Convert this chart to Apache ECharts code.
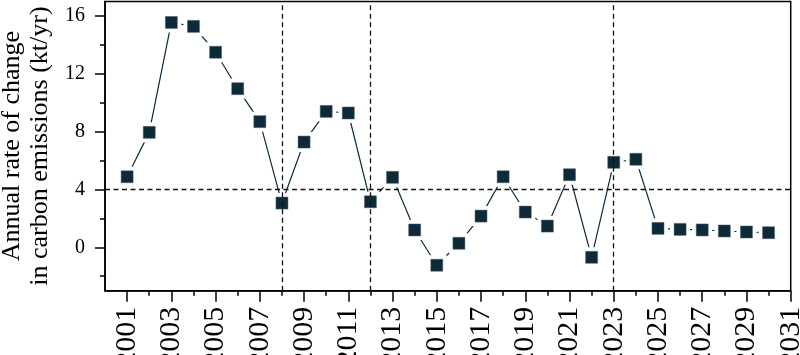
<!DOCTYPE html>
<html>
<head>
<meta charset="utf-8">
<script src="https://cdn.jsdelivr.net/npm/echarts@6/dist/echarts.min.js"></script>
<style>
html,body{margin:0;padding:0;background:#fff;}
#chart{width:800px;height:355px;}
</style>
</head>
<body>
<div id="chart"></div>
<script>
const years = [2001,2002,2003,2004,2005,2006,2007,2008,2009,2010,2011,2012,2013,2014,2015,2016,2017,2018,2019,2020,2021,2022,2023,2024,2025,2026,2027,2028,2029,2030];
const rates = [4.88,7.95,15.55,15.28,13.49,10.97,8.69,3.06,7.28,9.40,9.29,3.15,4.84,1.20,-1.24,0.28,2.16,4.88,2.44,1.47,5.02,-0.69,5.88,6.09,1.31,1.24,1.20,1.13,1.06,1.01];
const xTickLabels = [2001,2003,2005,2007,2009,2011,2013,2015,2017,2019,2021,2023,2025,2027,2029,2031];
const xMinorTicks = [2002,2004,2006,2008,2010,2012,2014,2016,2018,2020,2022,2024,2026,2028,2030];
const yTickLabels = [0,4,8,12,16];
const yMinorTicks = [-2,2,6,10,14];
const refYears = [2008,2012,2023];
const refRate = 4;
const xRange = [2000,2031];
const yRange = [-3,17];

const pts = years.map((y,i)=>[y,rates[i]]);
const FONT = "'Liberation Serif', 'Times New Roman', Times, serif";
const DARK = '#0e2a38';
const gridTop = 1.5, gridBottom = 64.3, gridLeft = 105, gridRight = 9.3;
const gridH = 355 - gridTop - gridBottom;
const gridW = 800 - gridLeft - gridRight;

const chart = echarts.init(document.getElementById('chart'), null, {renderer:'canvas'});
chart.setOption({
  animation:false,
  backgroundColor:'#fff',
  textStyle:{fontFamily:FONT},
  grid:{left:gridLeft,right:gridRight,top:gridTop,bottom:gridBottom,show:true,borderColor:'#000',borderWidth:1.5,backgroundColor:'transparent',containLabel:false,outerBoundsMode:'none'},
  xAxis:[
    {type:'value',min:xRange[0],max:xRange[1],position:'bottom',
     axisLine:{show:true,onZero:false,lineStyle:{color:'#000',width:1.5}},
     axisTick:{show:true,length:11,lineStyle:{color:'#000',width:1.5},customValues:xTickLabels},
     axisLabel:{show:true,rotate:90,fontSize:30,fontFamily:FONT,color:'#000',margin:16,customValues:xTickLabels,formatter:v=>String(v),hideOverlap:false},
     splitLine:{show:false}},
    {type:'value',min:xRange[0],max:xRange[1],position:'top',offset:-gridH,
     axisLine:{show:false,onZero:false},
     axisTick:{show:true,inside:true,length:5,lineStyle:{color:'#000',width:1.5},customValues:xMinorTicks},
     axisLabel:{show:false},splitLine:{show:false}}
  ],
  yAxis:[
    {type:'value',min:yRange[0],max:yRange[1],position:'left',
     name:'Annual rate of change\nin carbon emissions (kt/yr)',nameLocation:'middle',nameGap:48,
     nameTextStyle:{fontSize:26,fontFamily:FONT,color:'#000',lineHeight:28},
     axisLine:{show:true,onZero:false,lineStyle:{color:'#000',width:1.5}},
     axisTick:{show:true,length:10,lineStyle:{color:'#000',width:1.5},customValues:yTickLabels},
     axisLabel:{show:true,fontSize:20,fontFamily:FONT,color:'#000',margin:20,customValues:yTickLabels},
     splitLine:{show:false}},
    {type:'value',min:yRange[0],max:yRange[1],position:'right',offset:-gridW,
     axisLine:{show:false,onZero:false},
     axisTick:{show:true,inside:true,length:5,lineStyle:{color:'#000',width:1.5},customValues:yMinorTicks},
     axisLabel:{show:false},splitLine:{show:false}}
  ],
  series:[
    {type:'line',data:pts,z:2,symbol:'rect',symbolSize:20,
     itemStyle:{color:'#fff',borderWidth:0,opacity:1},
     lineStyle:{color:DARK,width:1.2},silent:true},
    {type:'line',data:[],z:3,silent:true,
     markLine:{silent:true,symbol:['none','none'],label:{show:false},
       lineStyle:{color:'#111',type:[5,3.5],width:1.3},
       data:[{yAxis:refRate}].concat(refYears.map(v=>({xAxis:v})))}},
    {type:'scatter',data:pts,z:4,symbol:'rect',symbolSize:12,
     itemStyle:{color:DARK,opacity:1,borderColor:'#4a6070',borderWidth:0.5},silent:true}
  ]
});
</script>
</body>
</html>
